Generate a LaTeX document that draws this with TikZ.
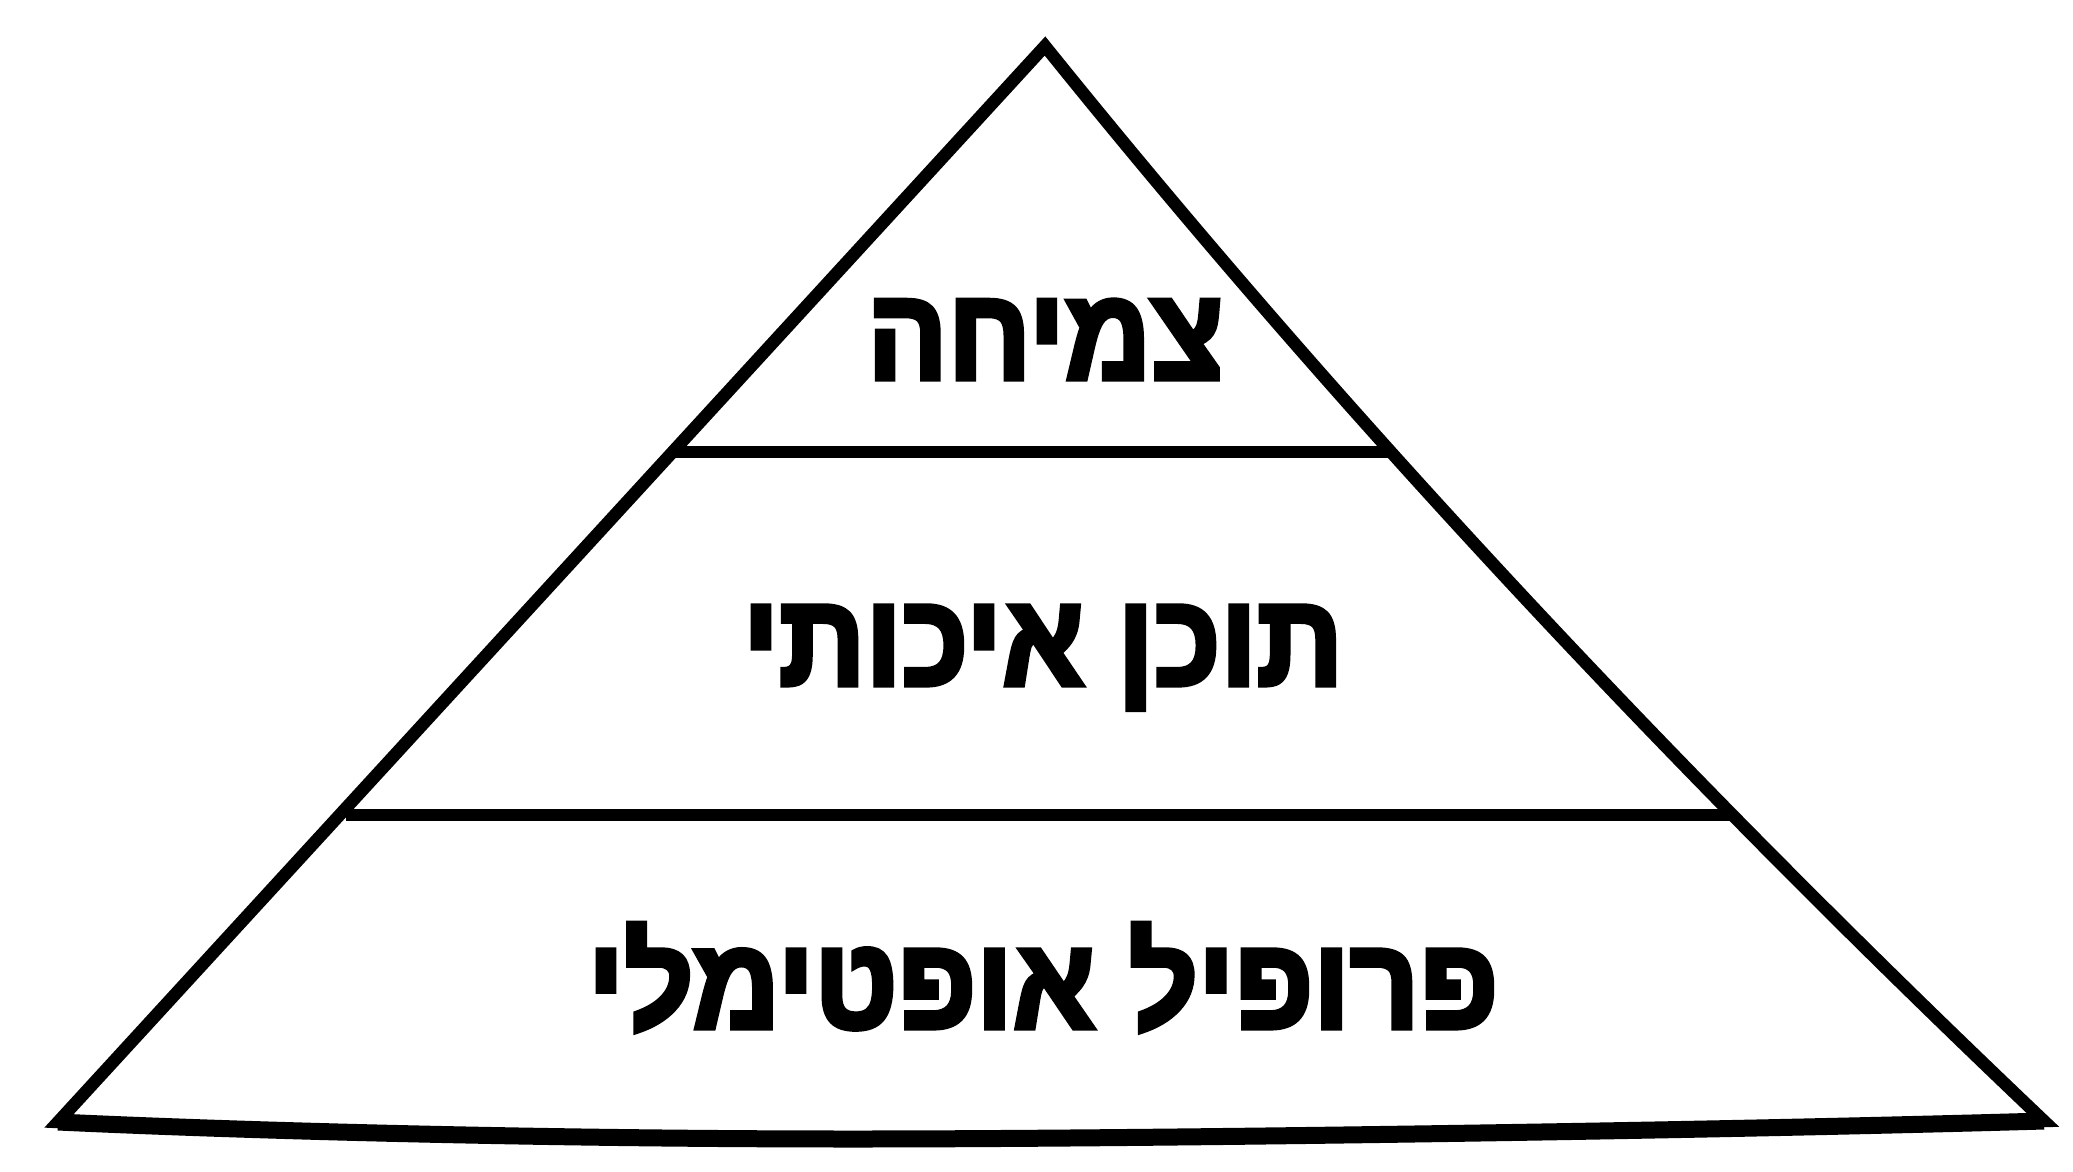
\documentclass[tikz,border=0pt]{standalone}
\usepackage{fontspec}
\usepackage{graphicx}
\TeXXeTstate=1
\newfontfamily\hebfont[Script=Hebrew,FakeBold=4]{Liberation Sans Bold}
\begin{document}
\begin{tikzpicture}[x=1pt,y=-1pt,
  edge/.style={draw=black,line width=12.5pt,line join=miter,miter limit=10},
  band/.style={draw=black,line width=17pt},
  tier/.style={draw=black,line width=12pt},
  label/.style={anchor=base,inner sep=0pt,outer sep=0pt}]
\useasboundingbox[fill=white] (0,0) rectangle (2073,1172);
% key points
\coordinate (bl) at (58,1122);
\coordinate (apex) at (1045,46);
\coordinate (br) at (2044,1121);
\coordinate (mid) at (853,1139);
\coordinate (l1) at (676,451.5);
\coordinate (r1) at (1390,451.5);
\coordinate (l2) at (346,815);
\coordinate (r2) at (1732,815);
% outline
\draw[edge] (bl) -- (apex) .. controls (1334,405) and (1667,763) .. (br)
  .. controls (1700,1131) and (1150,1139) .. (mid)
  .. controls (550,1139) and (250,1131) .. cycle;
% thicker base
\draw[band] (br) .. controls (1700,1131) and (1150,1139) .. (mid)
  .. controls (550,1139) and (250,1131) .. (bl);
% tier dividers
\draw[tier] (l1) -- (r1);
\draw[tier] (l2) -- (r2);
% labels
\node[label] (t1) at (1045.5,379) {\resizebox{356pt}{79pt}{\hebfont\beginR צמיחה\endR}};
\node[label] (t2) at (1043,685) {\resizebox{600pt}{79pt}{\hebfont\beginR תוכן איכותי\endR}};
\node[label] (t3) at (1043,1028) {\resizebox{910pt}{78pt}{\hebfont\smash{\beginR פרופיל אופטימלי\endR}\vphantom{פ}}};
\end{tikzpicture}
\end{document}
